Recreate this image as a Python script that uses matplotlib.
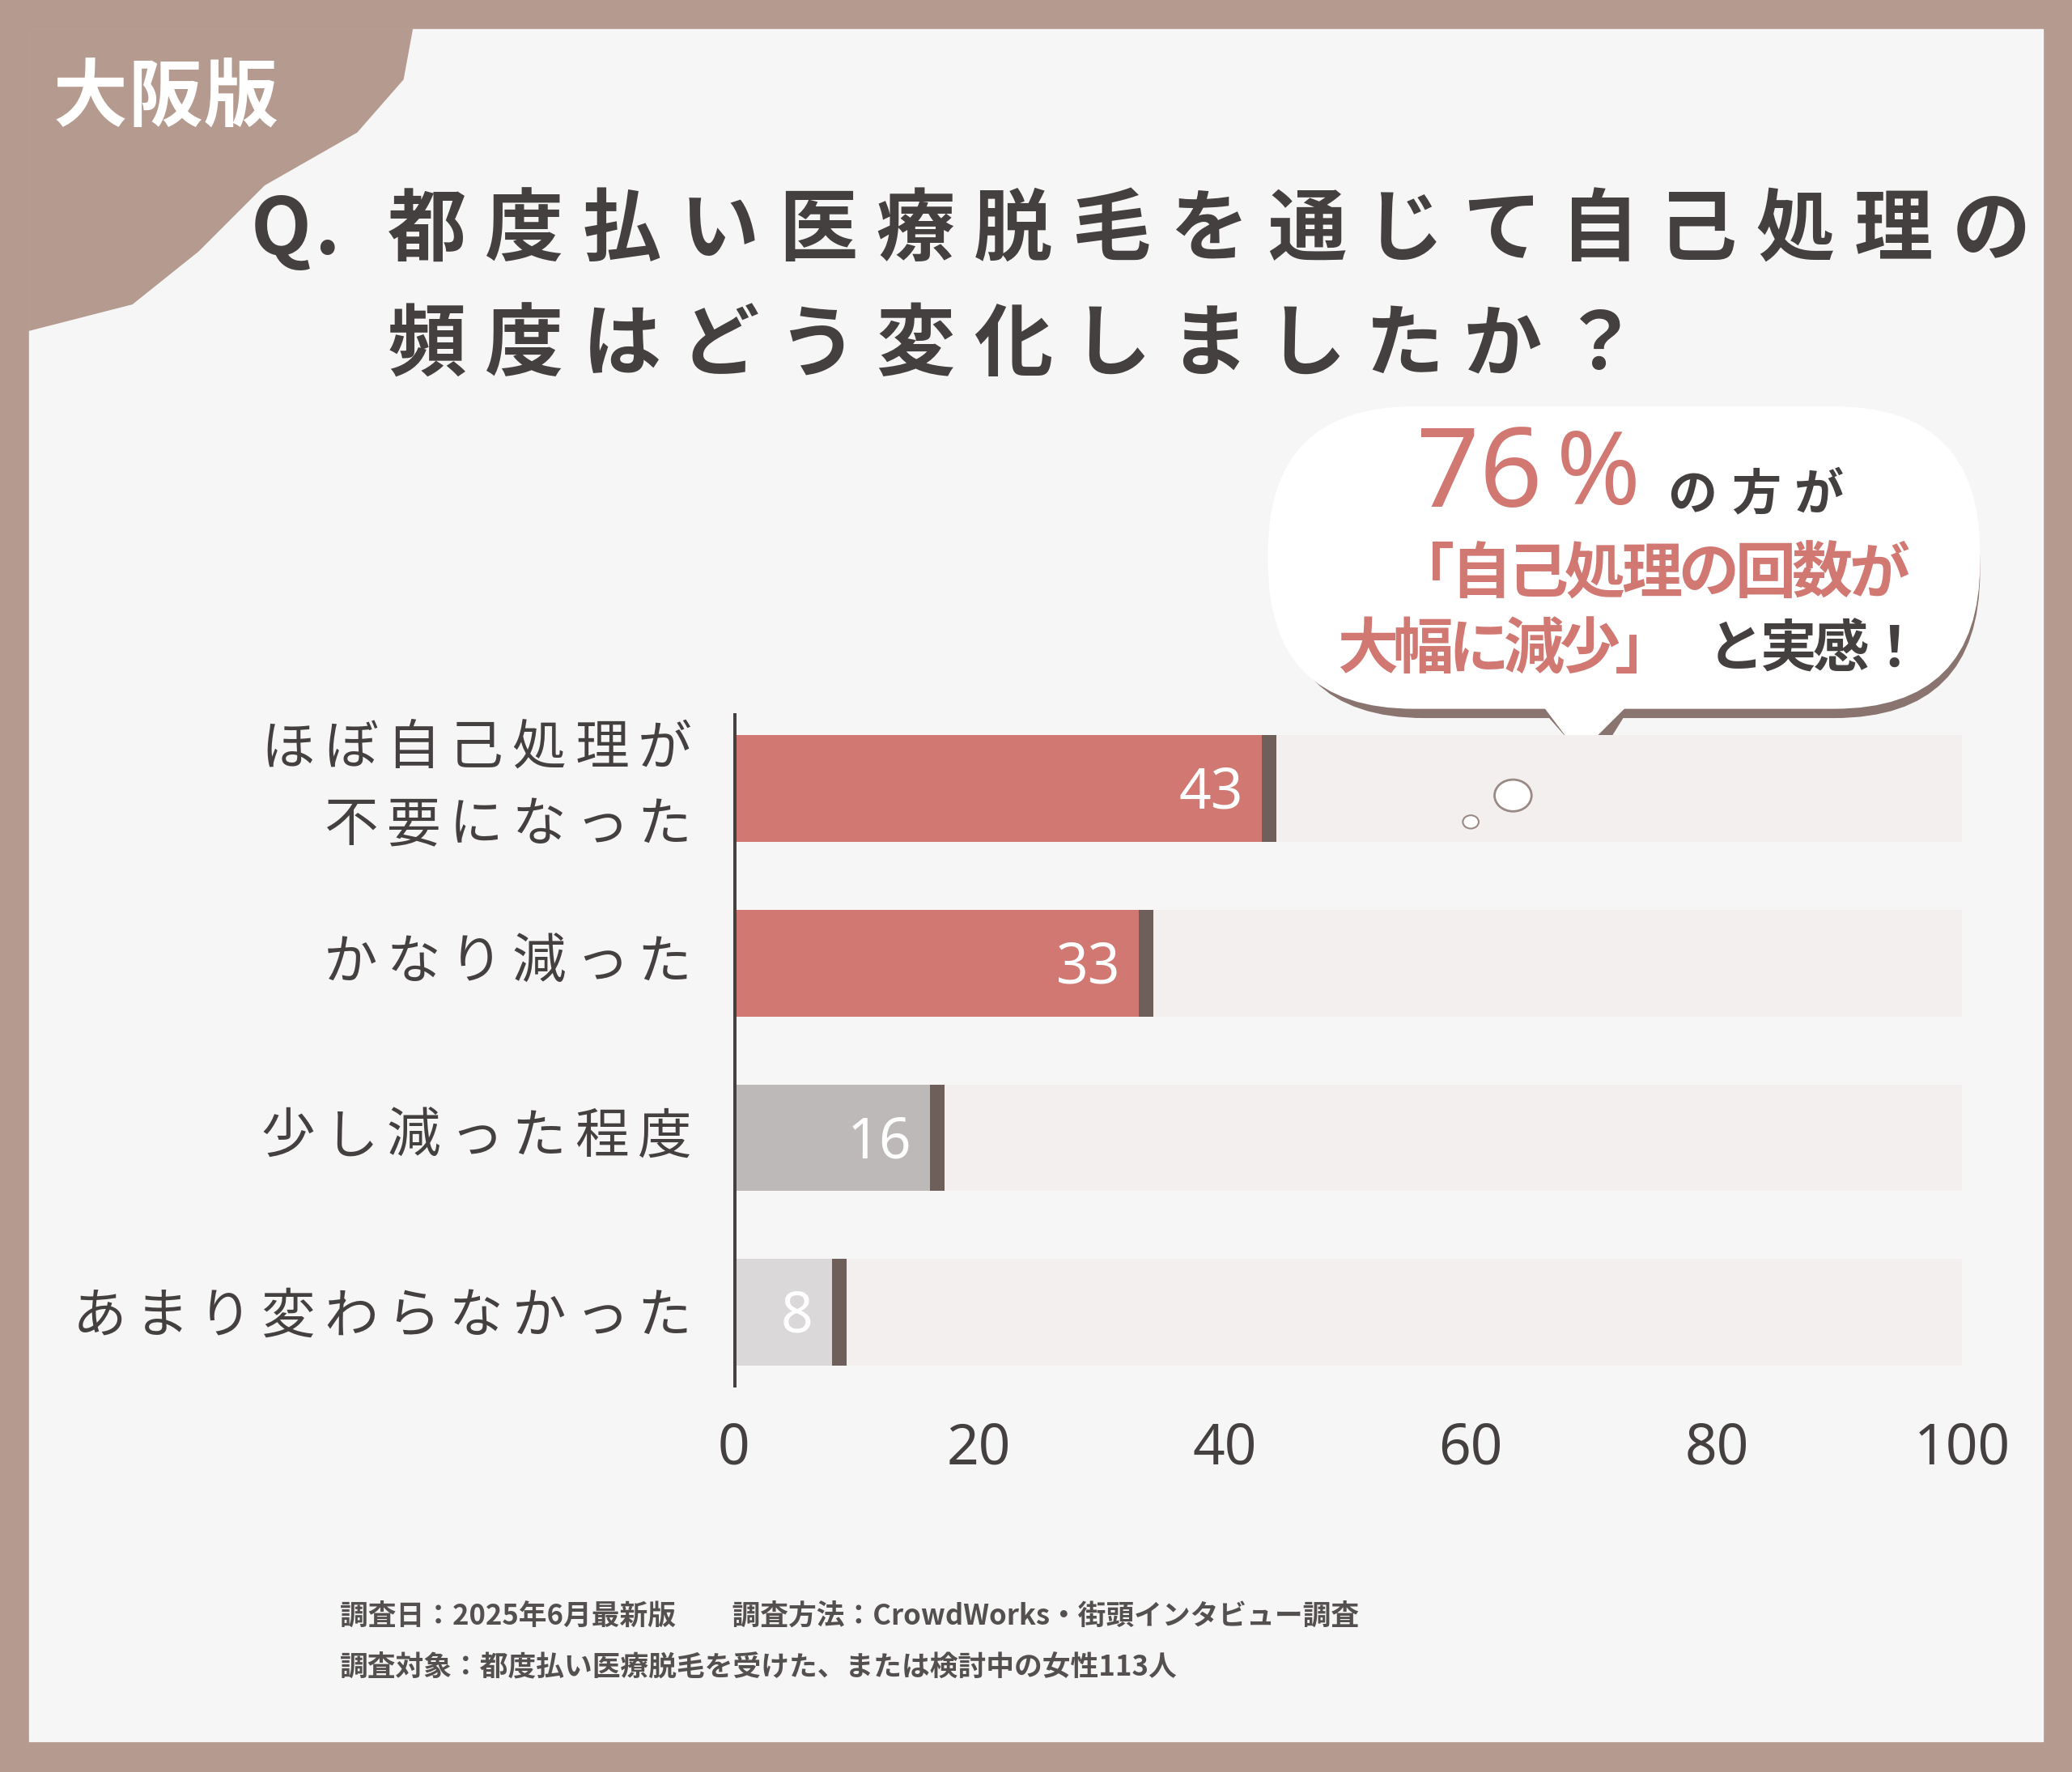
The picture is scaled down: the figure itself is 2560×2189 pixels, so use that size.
import matplotlib.pyplot as plt
from matplotlib.patches import FancyBboxPatch, Rectangle, Ellipse, Polygon

plt.rcParams["font.family"] = "Noto Sans CJK JP"

categories = ["ほぼ自己処理が\n不要になった", "かなり減った", "少し減った程度", "あまり変わらなかった"]
values = [43, 33, 16, 8]
bar_colors = ["#D27872", "#D27872", "#BDB9B8", "#DAD8D8"]
ticks = [0, 20, 40, 60, 80, 100]

W, H = 1568, 1341  # reference layout units
DARK = "#454040"


def fx(x):
    return x / W


def fy(y):
    return 1 - y / H


def spaced(ax, x, y, s, pitch, size, right=False, **kw):
    # wide letter spacing: one glyph per text call
    if right:
        x = x - len(s) * pitch
    for i, ch in enumerate(s):
        ax.text(x + i * pitch, y, ch, fontsize=size, va="center", ha="left", **kw)


fig = plt.figure(figsize=(25.6, 21.89), dpi=100)
fig.patch.set_facecolor("#B59A90")
bg = fig.add_axes([0, 0, 1, 1])
bg.set_xlim(0, W)
bg.set_ylim(H, 0)
bg.axis("off")
bg.add_patch(Rectangle((22, 22), 1524, 1296, color="#F7F6F6"))
bg.add_patch(Polygon([(22, 22), (312, 22), (305, 60), (270, 100), (200, 140), (150, 190),
                      (100, 230), (22, 250)], closed=True, color="#B59A90"))
spaced(bg, 40, 75, "大阪版", 57, 66, fontweight="bold", color="white")
spaced(bg, 190, 175, "Q.", 48, 70, fontweight="bold", color=DARK)
spaced(bg, 293, 175, "都度払い医療脱毛を通じて自己処理の", 74, 70, fontweight="bold", color=DARK)
spaced(bg, 293, 262, "頻度はどう変化しましたか？", 74, 70, fontweight="bold", color=DARK)

# speech bubble
bg.add_patch(FancyBboxPatch((968, 318), 530, 225, boxstyle="round,pad=0,rounding_size=110",
                            color="#8A7470"))
bg.add_patch(Polygon([(1170, 540), (1230, 540), (1205, 580)], color="#8A7470"))
bg.add_patch(FancyBboxPatch((960, 308), 538, 228, boxstyle="round,pad=0,rounding_size=110",
                            color="white"))
bg.add_patch(Polygon([(1165, 530), (1235, 530), (1195, 570)], color="white"))
bg.text(1072, 362, "76", fontsize=98, fontweight="bold", color="#D27872", va="center",
        fontfamily="Noto Sans")
bg.text(1178, 362, "%", fontsize=90, fontweight="bold", color="#D27872", va="center",
        fontfamily="Noto Sans")
spaced(bg, 1262, 375, "の方が", 48, 44, fontweight="bold", color=DARK)
spaced(bg, 1055, 435, "「自己処理の回数が", 43, 54, fontweight="bold", color="#D27872")
spaced(bg, 1012, 492, "大幅に減少」", 42, 54, fontweight="bold", color="#D27872")
spaced(bg, 1292, 492, "と実感！", 40, 50, fontweight="bold", color=DARK)

# footer
bg.text(257, 1223, "調査日：2025年6月最新版　　調査方法：CrowdWorks・街頭インタビュー調査",
        fontsize=25, fontweight="bold", color="#555050", va="center")
bg.text(257, 1261, "調査対象：都度払い医療脱毛を受けた、または検討中の女性113人",
        fontsize=25, fontweight="bold", color="#555050", va="center")

# category labels
label_y = [(567, 625), (729,), (861,), (997,)]
for cat, ys_ in zip(categories, label_y):
    for line, yy in zip(cat.split("\n"), ys_):
        spaced(bg, 530, yy, line, 47.5, 48, right=True, color=DARK)

ax = fig.add_axes([fx(555), fy(1050), fx(1485) - fx(555), fy(540) - fy(1050)])
ax.set_facecolor("none")
ys = list(range(len(categories)))
ax.barh(ys, [100.5] * 4, height=0.61, color="#EBE6E4")
ax.barh(ys, [100] * 4, height=0.61, color="#F2EFEE")
ax.barh(ys, [v + 1.2 for v in values], height=0.61, color="#6E5F5B")
ax.barh(ys, values, height=0.61, color=bar_colors)
for y, v in zip(ys, values):
    ax.text(v - 1.5, y + 0.03, str(v), fontsize=50, color="white", ha="right", va="center",
            fontfamily="Noto Sans")
ax.axvline(0, color=DARK, lw=5)
ax.set_xlim(0, 100)
ax.set_ylim(3.43, -0.43)
ax.set_yticks([])
ax.set_xticks(ticks)
ax.set_xticklabels([str(t) for t in ticks], fontsize=50, color=DARK,
                   fontfamily="Noto Sans", fontweight="medium")
ax.tick_params(length=0, axis="x", pad=30)
for s in ax.spines.values():
    s.set_visible(False)

top = fig.add_axes([0, 0, 1, 1])
top.set_xlim(0, W)
top.set_ylim(H, 0)
top.axis("off")
top.add_patch(Ellipse((1145, 602), 28, 24, color="white", ec="#9A8A85", lw=2))
top.add_patch(Ellipse((1113, 622), 12, 10, color="white", ec="#9A8A85", lw=1.5))

fig.savefig("out.png", dpi=100, facecolor=fig.get_facecolor())
